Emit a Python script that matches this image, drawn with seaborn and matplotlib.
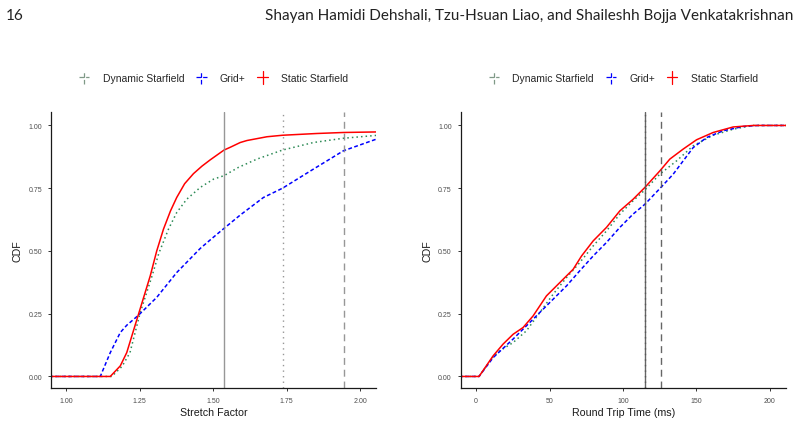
import numpy as np
import pandas as pd
import matplotlib
matplotlib.use("Agg")
import matplotlib.pyplot as plt
import seaborn as sns
from matplotlib.legend_handler import HandlerBase
from matplotlib.lines import Line2D

# Series names, in legend order
methods = ["Dynamic Starfield", "Grid+", "Static Starfield"]
colors = {"Dynamic Starfield": "#2e8b57", "Grid+": "#0000ff", "Static Starfield": "#ff0000"}
key_colors = {"Dynamic Starfield": "#7f9987", "Grid+": "#0000ff", "Static Starfield": "#ff0000"}

# Stretch factor CDFs
sf_static_x = [0.90, 1.150, 1.184, 1.206, 1.246, 1.286, 1.308, 1.331, 1.355, 1.376, 1.403,
               1.433, 1.462, 1.490, 1.537, 1.558, 1.592, 1.615, 1.683, 1.736, 1.853,
               1.943, 2.10]
sf_static_y = [0.0, 0.0, 0.042, 0.095, 0.248, 0.401, 0.500, 0.587, 0.660, 0.713, 0.768,
               0.808, 0.838, 0.863, 0.902, 0.913, 0.932, 0.940, 0.955, 0.961, 0.968,
               0.972, 0.975]
sf_dynamic_x = [0.90, 1.155, 1.190, 1.217, 1.252, 1.292, 1.315, 1.348, 1.376, 1.410,
                1.456, 1.501, 1.537, 1.586, 1.649, 1.736, 1.841, 1.943, 2.10]
sf_dynamic_y = [0.0, 0.0, 0.040, 0.095, 0.255, 0.400, 0.490, 0.587, 0.653, 0.706,
                0.753, 0.786, 0.800, 0.833, 0.866, 0.902, 0.932, 0.949, 0.965]
sf_grid_x = [0.90, 1.116, 1.150, 1.184, 1.206, 1.246, 1.308, 1.376, 1.456, 1.496,
             1.537, 1.592, 1.671, 1.736, 1.841, 1.943, 2.054, 2.10]
sf_grid_y = [0.0, 0.0, 0.095, 0.175, 0.204, 0.244, 0.315, 0.414, 0.510, 0.550,
             0.590, 0.643, 0.713, 0.750, 0.826, 0.899, 0.945, 0.958]
sf_p90 = {"Static Starfield": 1.537, "Dynamic Starfield": 1.736, "Grid+": 1.946}

# Round trip time CDFs
rtt_static_x = [-20, 2.0, 11.6, 18.4, 25.2, 32.0, 38.8, 47.9, 57.0, 66.1, 71.8, 79.7,
                88.8, 97.9, 106.9, 114.9, 125.1, 131.9, 141.0, 150.1, 161.4, 175.0,
                188.7, 220]
rtt_static_y = [0.0, 0.0, 0.082, 0.129, 0.168, 0.195, 0.241, 0.321, 0.374, 0.427, 0.480,
                0.540, 0.594, 0.660, 0.706, 0.753, 0.819, 0.866, 0.906, 0.943, 0.972,
                0.994, 1.0, 1.0]
rtt_dynamic_x = [-20, 2.0, 11.6, 16.1, 25.2, 34.3, 43.4, 52.5, 61.6, 70.6, 79.7, 88.8,
                 97.9, 106.9, 114.9, 125.1, 136.5, 147.8, 161.4, 175.0, 188.0, 220]
rtt_dynamic_y = [0.0, 0.0, 0.078, 0.102, 0.135, 0.182, 0.255, 0.328, 0.394, 0.454, 0.520,
                 0.580, 0.647, 0.700, 0.743, 0.806, 0.859, 0.919, 0.961, 0.985, 1.0, 1.0]
rtt_grid_x = [-20, 2.0, 11.6, 25.2, 34.3, 43.4, 52.5, 61.6, 70.6, 79.7, 88.8, 97.9,
              106.9, 114.9, 125.8, 134.2, 141.0, 147.8, 157.0, 168.3, 181.9, 192.0, 220]
rtt_grid_y = [0.0, 0.0, 0.075, 0.149, 0.202, 0.255, 0.308, 0.361, 0.421, 0.480, 0.534,
              0.594, 0.647, 0.686, 0.753, 0.806, 0.859, 0.912, 0.952, 0.979, 0.996, 1.0, 1.0]
rtt_p75 = {"Static Starfield": 114.9, "Dynamic Starfield": 115.2, "Grid+": 125.8}


def to_frame(parts):
    rows = []
    for name, xs, ys in parts:
        for x, y in zip(xs, ys):
            rows.append((name, x, y))
    return pd.DataFrame(rows, columns=["method", "x", "cdf"])


sf_df = to_frame([("Dynamic Starfield", sf_dynamic_x, sf_dynamic_y),
                  ("Grid+", sf_grid_x, sf_grid_y),
                  ("Static Starfield", sf_static_x, sf_static_y)])
rtt_df = to_frame([("Dynamic Starfield", rtt_dynamic_x, rtt_dynamic_y),
                   ("Grid+", rtt_grid_x, rtt_grid_y),
                   ("Static Starfield", rtt_static_x, rtt_static_y)])

sns.set_theme(style="ticks")
plt.rcParams["font.family"] = ["Liberation Sans", "DejaVu Sans"]

line_dashes = {"Dynamic Starfield": (1, 2), "Grid+": (2.5, 1.6), "Static Starfield": ""}
vline_styles = {"Dynamic Starfield": (0, (1, 3)), "Grid+": (0, (5, 3.5)), "Static Starfield": "-"}


class CrossHandler(HandlerBase):
    # ggplot style key: horizontal + vertical segment
    def create_artists(self, legend, orig, xd, yd, w, h, fontsize, trans):
        cx = -xd + w / 2
        cy = -yd + h / 2
        hw = w / 2
        hh = h * 0.85
        hl = Line2D([cx - hw, cx + hw], [cy, cy], color=orig.get_color(),
                    linestyle=orig.get_linestyle(), lw=0.9)
        vl = Line2D([cx, cx], [cy - hh, cy + hh], color=orig.get_color(),
                    linestyle=orig.get_linestyle(), lw=0.9)
        hl.set_transform(trans)
        vl.set_transform(trans)
        return [hl, vl]


fig = plt.figure(figsize=(8, 4.27), dpi=100)
ax1 = fig.add_axes([0.064, 0.089, 0.406, 0.646])
ax2 = fig.add_axes([0.576, 0.089, 0.406, 0.646])

panels = [
    (ax1, sf_df, sf_p90, "Stretch Factor", (0.949, 2.054), [1.0, 1.25, 1.5, 1.75, 2.0],
     ["1.00", "1.25", "1.50", "1.75", "2.00"], "#8c8c8c"),
    (ax2, rtt_df, rtt_p75, "Round Trip Time (ms)", (-10.4, 210.7), [0, 50, 100, 150, 200],
     ["0", "50", "100", "150", "200"], "#555555"),
]

for ax, df, vlines, xlabel, xlim, xticks, xticklabels, vcol in panels:
    sns.lineplot(data=df, x="x", y="cdf", hue="method", style="method",
                 hue_order=methods, style_order=methods, palette=colors,
                 dashes=line_dashes, sort=False, estimator=None, lw=1.1,
                 legend=False, ax=ax)
    for name in methods:
        ax.axvline(vlines[name], color=vcol, linestyle=vline_styles[name], lw=1.0, alpha=0.9)

    ax.set_xlim(*xlim)
    ax.set_ylim(-0.046, 1.053)
    ax.set_xticks(xticks)
    ax.set_xticklabels(xticklabels)
    ax.set_yticks([0, 0.25, 0.5, 0.75, 1.0])
    ax.set_yticklabels(["0.00", "0.25", "0.50", "0.75", "1.00"])
    ax.set_xlabel(xlabel, fontsize=7.7, color="#1a1a1a", labelpad=2)
    ax.set_ylabel("CDF", fontsize=7.7, color="#1a1a1a", labelpad=4)
    ax.tick_params(axis="both", labelsize=5, labelcolor="#4d4d4d", length=2.5,
                   width=0.7, color="#333333", pad=4)
    sns.despine(ax=ax)
    for sp in ["left", "bottom"]:
        ax.spines[sp].set_linewidth(0.9)
        ax.spines[sp].set_color("#1a1a1a")

    handles = [Line2D([], [], color=key_colors[m], linestyle=vline_styles[m]) for m in methods]
    ax.legend(handles, methods, handler_map={Line2D: CrossHandler()},
              loc="center", bbox_to_anchor=(0.5, 1.124), ncol=3, frameon=False,
              fontsize=7.5, handlelength=1.0, handletextpad=1.28, columnspacing=1.13)

fig.text(0.007, 0.963, "16", fontsize=11, family="Lato", color="#222222", va="center")
fig.text(0.992, 0.963, "Shayan Hamidi Dehshali, Tzu-Hsuan Liao, and Shaileshh Bojja Venkatakrishnan",
         fontsize=11, family="Lato", color="#222222", va="center", ha="right")

fig.savefig("out.png", dpi=100)
